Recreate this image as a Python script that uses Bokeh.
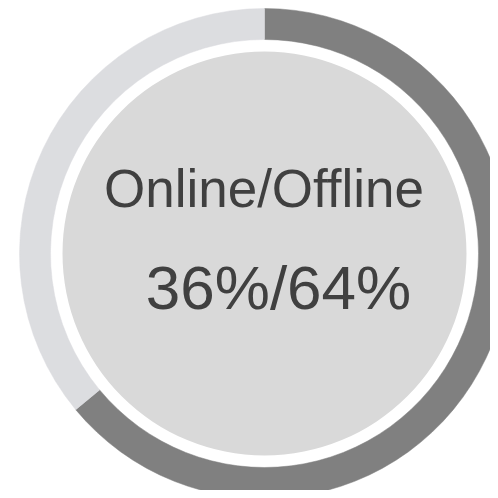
import math
from bokeh.plotting import figure
from bokeh.models import Range1d, ColumnDataSource
from bokeh.core.properties import value
from bokeh.embed import file_html
from bokeh.resources import INLINE

# Data
categories = ["Offline", "Online"]
shares = [64, 36]
colors = ["#808080", "#dcdde0"]
title_text = "Online/Offline"
value_text = "36%/64%"

W = H = 490
p = figure(width=W, height=H, output_backend="svg", toolbar_location=None,
           x_range=Range1d(0, W), y_range=Range1d(0, H), min_border=0,
           x_axis_location=None, y_axis_location=None,
           background_fill_color="white", border_fill_color="white")
p.grid.visible = False
p.outline_line_color = None

cx, cy = 264, 237
R_out, R_in, R_core = 245, 214, 202

# wedges clockwise from top
total = sum(shares)
starts, ends = [], []
acc = 0.0
for s in shares:
    a0 = math.pi / 2 - 2 * math.pi * acc / total
    acc += s
    a1 = math.pi / 2 - 2 * math.pi * acc / total
    starts.append(a0)
    ends.append(a1)

src = ColumnDataSource(dict(cat=categories, share=shares, color=colors,
                            start=starts, end=ends,
                            x=[cx] * len(shares), y=[cy] * len(shares)))
p.annular_wedge(x="x", y="y", inner_radius=R_in, outer_radius=R_out,
                start_angle="start", end_angle="end", direction="clock",
                fill_color="color", line_color="color", line_width=0.5,
                source=src)

p.circle(x=[cx], y=[cy], radius=R_core, fill_color="#d9d9d9", line_color=None)

p.text(x=[263.5], y=[302], text=[title_text], text_align="center",
       text_baseline="alphabetic", text_font=value("Liberation Sans"),
       text_font_size="53px", text_color="#404040")
p.text(x=[278], y=[203], text=[value_text], text_align="center",
       text_baseline="alphabetic", text_font=value("Liberation Sans"),
       text_font_size="62px", text_color="#404040")

open("out.html", "w").write(file_html(p, INLINE))
